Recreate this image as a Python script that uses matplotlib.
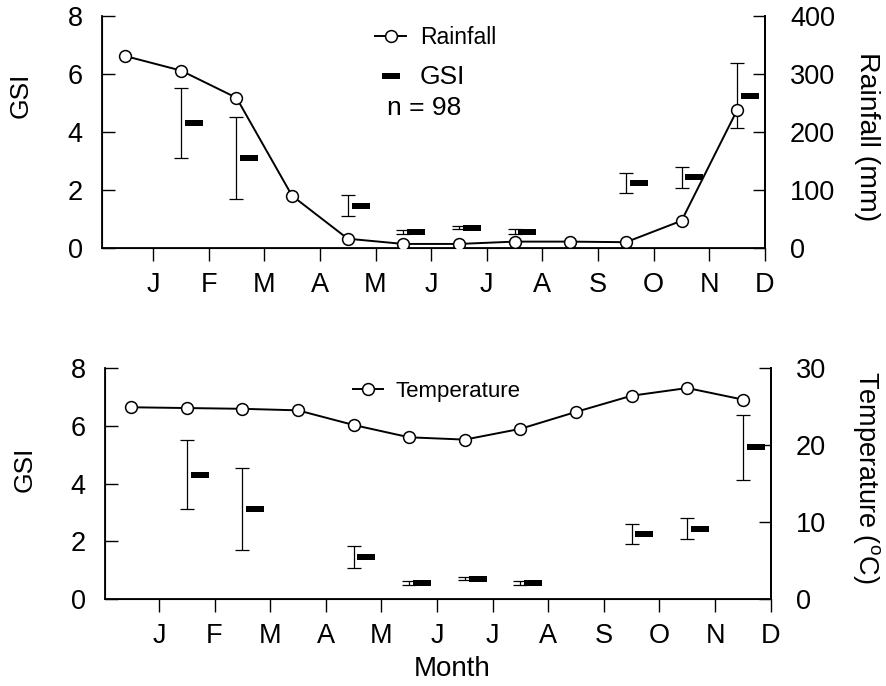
import numpy as np
import matplotlib
matplotlib.use("Agg")
import matplotlib.pyplot as plt
from matplotlib.path import Path
from matplotlib.lines import Line2D

plt.rcParams['font.family'] = ['Liberation Sans', 'DejaVu Sans']
plt.rcParams['mathtext.fontset'] = 'custom'
plt.rcParams['mathtext.rm'] = 'Liberation Sans'

# ---- data -------------------------------------------------------------
months = ["J", "F", "M", "A", "M", "J", "J", "A", "S", "O", "N", "D"]
rainfall = [331, 306, 259, 90, 16, 7, 7, 11, 11, 10, 47, 238]          # mm
temperature = [24.9, 24.8, 24.7, 24.5, 22.6, 21.0, 20.7, 22.1, 24.3, 26.4, 27.4, 25.9]  # deg C
gsi_mean = [np.nan, 4.31, 3.11, np.nan, 1.46, 0.55, 0.70, 0.56, np.nan, 2.25, 2.44, 5.25]
gsi_err = [np.nan, 1.21, 1.41, np.nan, 0.37, 0.07, 0.05, 0.08, np.nan, 0.34, 0.36, 1.12]
n_fish = 98

# monthly values sit between the month ticks
xpos = np.arange(len(months)) + 0.5
tick_pos = np.arange(1, len(months) + 1)
gsi_shift = 0.23

W, H = 887, 686
fig = plt.figure(figsize=(W / 100, H / 100), dpi=100)


def px_axes(l, r, t, b):
    return fig.add_axes([l / W, 1 - b / H, (r - l) / W, (b - t) / H])


# GSI mark: flat filled rectangle
rect = Path([(-1.25, -0.48), (1.25, -0.48), (1.25, 0.48), (-1.25, 0.48), (-1.25, -0.48)],
            [Path.MOVETO, Path.LINETO, Path.LINETO, Path.LINETO, Path.CLOSEPOLY])

TICK_FS = 19.5


def style_gsi_axis(ax, xmin):
    ax.set_xlim(xmin, 12)
    ax.set_ylim(0, 8)
    ax.set_yticks([0, 2, 4, 6, 8])
    ax.set_xticks(tick_pos)
    ax.set_xticklabels(months)
    ax.spines['top'].set_visible(False)
    for s in ('left', 'bottom', 'right'):
        ax.spines[s].set_linewidth(1.3)
    ax.tick_params(axis='y', direction='in', length=9, width=1.0, labelsize=TICK_FS, pad=14)
    ax.tick_params(axis='x', direction='out', length=9, width=1.0, labelsize=TICK_FS, pad=8)


def draw_gsi(ax):
    x = np.array(xpos)
    m = np.array(gsi_mean)
    e = np.array(gsi_err)
    ok = ~np.isnan(m)
    ax.errorbar(x[ok], m[ok], yerr=e[ok], fmt='none', ecolor='black',
                elinewidth=0.9, capsize=4.8, capthick=0.9, zorder=2)
    ax.plot(x[ok] + gsi_shift, m[ok], linestyle='none', marker=rect,
            markersize=12.5, color='black', markeredgewidth=0, zorder=3)


def style_right(ax2, ymax, ticks):
    ax2.set_ylim(0, ymax)
    ax2.set_yticks(ticks)
    ax2.spines['top'].set_visible(False)
    ax2.spines['right'].set_linewidth(1.3)
    ax2.tick_params(axis='y', direction='in', length=9, width=1.0, labelsize=TICK_FS, pad=18)


line_kw = dict(color='black', linewidth=1.4, marker='o', markersize=8.5,
               markerfacecolor='white', markeredgecolor='black', markeredgewidth=1.1)

# ---- top panel: GSI and rainfall -----------------------------------------
ax1 = px_axes(102, 765, 16, 248)
style_gsi_axis(ax1, 0.083)
draw_gsi(ax1)
ax1r = ax1.twinx()
style_right(ax1r, 400, [0, 100, 200, 300, 400])
ax1r.plot(xpos, rainfall, zorder=4, **line_kw)
ax1r.set_zorder(ax1.get_zorder() + 1)
ax1r.patch.set_visible(False)

h_rain = Line2D([], [], **line_kw)
h_gsi = Line2D([], [], linestyle='none', marker=rect, markersize=12.5,
               color='black', markeredgewidth=0)
leg1 = ax1r.legend([h_rain, h_gsi], ["Rainfall", "GSI"], loc='upper left',
                   bbox_to_anchor=(0.412, 0.955), frameon=False, fontsize=16.5,
                   handlelength=1.35, handletextpad=0.6, labelspacing=0.68,
                   borderpad=0, borderaxespad=0, numpoints=1)
leg1.get_texts()[1].set_fontsize(19)
ax1r.text(0.43, 0.605, f"n = {n_fish}", transform=ax1r.transAxes,
          fontsize=19, ha='left', va='center')

# ---- bottom panel: GSI and temperature ------------------------------------
ax2 = px_axes(105, 770.7, 368, 599)
style_gsi_axis(ax2, 0.03)
draw_gsi(ax2)
ax2r = ax2.twinx()
style_right(ax2r, 30, [0, 10, 20, 30])
ax2r.plot(xpos, temperature, zorder=4, **line_kw)
ax2r.set_zorder(ax2.get_zorder() + 1)
ax2r.patch.set_visible(False)

h_temp = Line2D([], [], **line_kw)
ax2r.legend([h_temp], ["Temperature"], loc='center left',
            bbox_to_anchor=(0.372, 0.9), frameon=False, fontsize=16,
            handlelength=1.35, handletextpad=0.6, borderpad=0,
            borderaxespad=0, numpoints=1)

# ---- axis titles ------------------------------------------------------------
fig.text(21 / W, 1 - 95 / H, "GSI", rotation=90, ha='center', va='center', fontsize=19)
fig.text(25 / W, 1 - 469 / H, "GSI", rotation=90, ha='center', va='center', fontsize=19)
fig.text(867 / W, 1 - 137 / H, "Rainfall (mm)", rotation=270, ha='center', va='center', fontsize=20.5)
fig.text(867 / W, 1 - 477 / H, r"Temperature ($^{\rm o}$C)", rotation=270,
         ha='center', va='center', fontsize=19.5)
fig.text(452 / W, 1 - 669 / H, "Month", ha='center', va='center', fontsize=20)

fig.savefig("out.png", dpi=100)
